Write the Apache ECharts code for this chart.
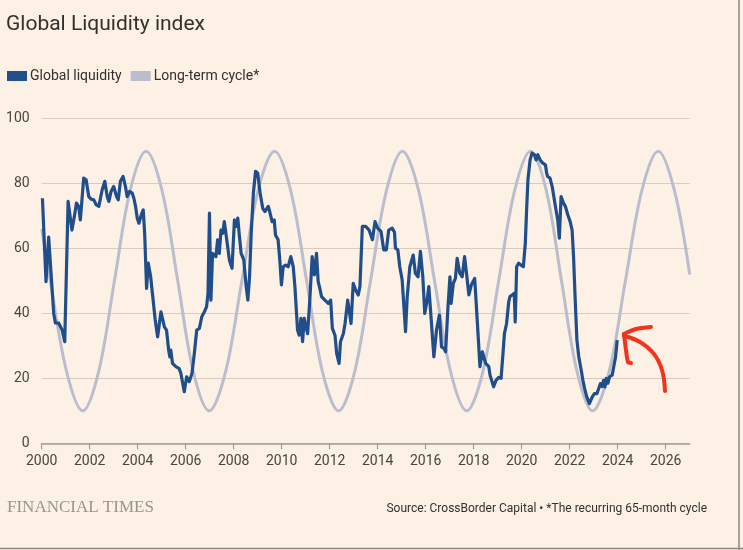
<!DOCTYPE html>
<html>
<head>
<meta charset="utf-8">
<title>Global Liquidity index</title>
<script src="https://cdn.jsdelivr.net/npm/echarts@6/dist/echarts.min.js"></script>
<style>
  html, body { margin: 0; padding: 0; background: #fdf0e5; }
  #chart { width: 743px; height: 550px; }
</style>
</head>
<body>
<div id="chart"></div>
<script>
// x axis tick labels (years)
var tickYears = [2000, 2002, 2004, 2006, 2008, 2010, 2012, 2014, 2016, 2018, 2020, 2022, 2024, 2026];

// Global liquidity (decimal year / index value)
var liquidityDates = [
  2000.03, 2000.18, 2000.29, 2000.50, 2000.57, 2000.71, 2000.85, 2000.96, 2001.10, 2001.26,
  2001.36, 2001.45, 2001.54, 2001.61, 2001.75, 2001.85, 2001.96, 2002.06, 2002.17, 2002.27,
  2002.38, 2002.52, 2002.63, 2002.73, 2002.80, 2002.89, 2003.00, 2003.12, 2003.19, 2003.28,
  2003.39, 2003.49, 2003.56, 2003.66, 2003.77, 2003.84, 2003.91, 2003.98, 2004.05, 2004.15,
  2004.23, 2004.29, 2004.37, 2004.44, 2004.54, 2004.62, 2004.73, 2004.83, 2004.97, 2005.11,
  2005.20, 2005.29, 2005.34, 2005.38, 2005.45, 2005.59, 2005.73, 2005.80, 2005.94, 2006.04,
  2006.15, 2006.26, 2006.36, 2006.46, 2006.57, 2006.67, 2006.78, 2006.87, 2006.93, 2006.99,
  2007.05, 2007.12, 2007.19, 2007.26, 2007.33, 2007.40, 2007.47, 2007.54, 2007.61, 2007.71,
  2007.82, 2007.93, 2008.03, 2008.10, 2008.17, 2008.24, 2008.31, 2008.42, 2008.52, 2008.59,
  2008.66, 2008.73, 2008.82, 2008.91, 2009.00, 2009.10, 2009.21, 2009.30, 2009.44, 2009.50,
  2009.60, 2009.69, 2009.74, 2009.85, 2009.92, 2009.99, 2010.06, 2010.16, 2010.27, 2010.38,
  2010.48, 2010.55, 2010.66, 2010.73, 2010.80, 2010.87, 2010.94, 2011.01, 2011.08, 2011.17,
  2011.27, 2011.36, 2011.45, 2011.52, 2011.59, 2011.66, 2011.80, 2011.94, 2012.04, 2012.11,
  2012.22, 2012.29, 2012.39, 2012.45, 2012.57, 2012.64, 2012.75, 2012.82, 2012.89, 2012.98,
  2013.08, 2013.19, 2013.26, 2013.36, 2013.50, 2013.64, 2013.78, 2013.89, 2014.00, 2014.04,
  2014.14, 2014.25, 2014.36, 2014.46, 2014.60, 2014.70, 2014.74, 2014.84, 2014.92, 2015.02,
  2015.16, 2015.23, 2015.34, 2015.48, 2015.57, 2015.68, 2015.78, 2015.88, 2015.96, 2016.06,
  2016.13, 2016.23, 2016.34, 2016.45, 2016.57, 2016.66, 2016.76, 2016.83, 2016.92, 2017.01,
  2017.06, 2017.15, 2017.24, 2017.31, 2017.42, 2017.52, 2017.62, 2017.70, 2017.80, 2017.90,
  2018.04, 2018.08, 2018.18, 2018.26, 2018.36, 2018.50, 2018.63, 2018.68, 2018.76, 2018.83,
  2018.93, 2019.04, 2019.14, 2019.21, 2019.28, 2019.37, 2019.46, 2019.51, 2019.60, 2019.69,
  2019.73, 2019.79, 2019.87, 2019.97, 2020.07, 2020.15, 2020.21, 2020.26, 2020.35, 2020.43,
  2020.53, 2020.60, 2020.67, 2020.77, 2020.88, 2020.99, 2021.04, 2021.08, 2021.18, 2021.27,
  2021.36, 2021.43, 2021.50, 2021.57, 2021.64, 2021.74, 2021.82, 2021.92, 2022.02, 2022.10,
  2022.16, 2022.23, 2022.30, 2022.38, 2022.48, 2022.55, 2022.62, 2022.71, 2022.82, 2022.94,
  2023.03, 2023.13, 2023.21, 2023.28, 2023.35, 2023.41, 2023.47, 2023.52, 2023.59, 2023.66,
  2023.77, 2023.84, 2023.91, 2023.98
];
var liquidityValues = [
  75.5, 49.8, 63.5, 40.0, 37.1, 37.0, 34.9, 31.3, 74.5, 65.7,
  69.9, 74.0, 72.9, 68.8, 81.7, 81.2, 76.0, 75.2, 75.0, 73.5,
  73.0, 78.1, 80.7, 76.0, 74.5, 77.6, 79.1, 76.0, 75.0, 80.7,
  82.2, 79.1, 76.0, 77.6, 77.1, 75.5, 73.0, 69.4, 67.8, 70.4,
  71.9, 64.7, 47.7, 55.5, 51.3, 50.8, 38.0, 32.8, 40.5, 35.9,
  34.9, 28.7, 26.6, 28.7, 24.6, 23.6, 23.0, 21.5, 15.9, 20.5,
  19.0, 21.5, 27.7, 34.9, 35.4, 39.0, 40.5, 42.1, 46.2, 70.9,
  44.1, 58.5, 59.1, 57.5, 62.7, 58.5, 65.7, 64.7, 68.3, 62.7,
  56.5, 53.9, 68.8, 66.8, 69.4, 63.7, 58.5, 56.5, 48.3, 44.1,
  51.3, 64.7, 77.1, 83.8, 83.2, 77.1, 72.4, 71.4, 73.0, 71.4,
  68.3, 68.8, 64.2, 62.7, 56.5, 48.8, 54.4, 54.9, 54.4, 57.5,
  54.4, 48.3, 34.9, 33.3, 38.5, 31.3, 38.5, 35.9, 33.8, 44.1,
  57.5, 51.9, 58.5, 49.8, 47.7, 45.2, 44.1, 43.1, 44.1, 35.4,
  33.3, 27.7, 24.6, 31.3, 33.8, 36.9, 44.1, 40.5, 36.9, 49.3,
  47.2, 45.7, 48.3, 66.8, 66.8, 65.7, 62.7, 68.3, 66.3, 66.8,
  65.2, 59.6, 59.6, 65.7, 66.3, 65.0, 60.1, 59.6, 54.4, 50.3,
  34.4, 45.2, 54.4, 58.0, 52.4, 51.3, 59.1, 51.3, 40.0, 44.1,
  48.3, 38.0, 26.6, 34.9, 39.5, 29.7, 29.2, 28.2, 41.0, 51.3,
  43.1, 49.3, 50.8, 57.0, 52.4, 51.3, 57.5, 52.4, 45.7, 48.8,
  50.8, 46.2, 33.8, 23.6, 28.2, 24.6, 23.6, 21.0, 20.5, 17.4,
  19.4, 20.3, 20.0, 26.6, 33.8, 36.9, 43.6, 45.2, 45.7, 46.2,
  37.4, 54.4, 55.5, 54.9, 54.4, 61.6, 72.9, 81.2, 87.3, 89.4,
  88.9, 87.3, 88.9, 87.3, 86.3, 85.8, 83.2, 82.2, 81.7, 79.1,
  75.0, 71.9, 68.8, 63.2, 76.0, 74.0, 73.0, 70.4, 68.3, 65.7,
  57.5, 44.1, 31.8, 26.6, 22.5, 19.4, 16.9, 14.3, 12.2, 14.3,
  15.3, 15.3, 16.9, 18.4, 17.5, 19.4, 17.4, 20.0, 18.5, 20.5,
  21.0, 21.5, 26.6, 31.8
];

// Long-term cycle at peaks, troughs and in between
var cycleDates = [
  2000.00, 2000.36, 2001.04, 2001.71, 2002.37, 2003.03, 2003.69, 2004.35,
  2005.01, 2005.67, 2006.32, 2006.98, 2007.66, 2008.34, 2009.02, 2009.70,
  2010.37, 2011.04, 2011.70, 2012.37, 2013.04, 2013.70, 2014.37, 2015.03,
  2015.70, 2016.37, 2017.04, 2017.71, 2018.38, 2019.04, 2019.71, 2020.37,
  2021.02, 2021.66, 2022.31, 2022.95, 2023.64, 2024.32, 2025.01, 2025.69,
  2026.36, 2027.00
];
var cycleValues = [
  66, 50, 22, 10, 22, 50, 78, 90,
  78, 50, 22, 10, 22, 50, 78, 90,
  78, 50, 22, 10, 22, 50, 78, 90,
  78, 50, 22, 10, 22, 50, 78, 90,
  78, 50, 22, 10, 22, 50, 78, 90,
  78, 52
];

function pairs(xs, ys) {
  var out = [];
  for (var i = 0; i < xs.length; i++) {
    out.push([xs[i], ys[i]]);
  }
  return out;
}

var myChart = echarts.init(document.getElementById('chart'), null, { renderer: 'canvas' });

var textColor = '#33302e';
var fontName = 'Roboto, "Noto Sans", sans-serif';

var option = {
  backgroundColor: '#fdf0e5',
  animation: false,
  title: {
    text: 'Global Liquidity index',
    left: 6,
    top: 14,
    padding: 0,
    textStyle: {
      fontFamily: fontName,
      fontSize: 21,
      fontWeight: 'normal',
      color: textColor
    }
  },
  legend: {
    data: ['Global liquidity', 'Long-term cycle*'],
    left: 7,
    top: 69,
    padding: 0,
    icon: 'rect',
    itemWidth: 20,
    itemHeight: 10,
    itemGap: 9,
    textStyle: {
      fontFamily: fontName,
      fontSize: 14,
      color: textColor,
      padding: [0, 0, 0, -2]
    }
  },
  grid: {
    left: 41.7,
    right: 53.3,
    top: 118.7,
    bottom: 106.7
  },
  xAxis: {
    type: 'value',
    min: 2000,
    max: 2027,
    axisLine: {
      show: true,
      lineStyle: { color: '#a39d97', width: 1.5 }
    },
    axisTick: {
      show: true,
      length: 6,
      customValues: tickYears,
      lineStyle: { color: '#a39d97', width: 1.2 }
    },
    axisLabel: {
      customValues: tickYears,
      margin: 11,
      fontFamily: fontName,
      fontSize: 14,
      color: '#4a4542',
      formatter: function (v) { return String(v); }
    },
    splitLine: { show: false }
  },
  yAxis: {
    type: 'value',
    min: 0,
    max: 100,
    interval: 20,
    axisLine: { show: false },
    axisTick: { show: false },
    axisLabel: {
      margin: 12,
      fontFamily: fontName,
      fontSize: 14,
      color: '#4a4542'
    },
    splitLine: {
      lineStyle: { color: '#d8ccc1', width: 1 }
    }
  },
  series: [
    {
      name: 'Long-term cycle*',
      type: 'line',
      data: pairs(cycleDates, cycleValues),
      smooth: 0.35,
      showSymbol: false,
      color: '#b9bdcc',
      lineStyle: { color: '#b9bdcc', width: 3 },
      z: 2
    },
    {
      name: 'Global liquidity',
      type: 'line',
      data: pairs(liquidityDates, liquidityValues),
      showSymbol: false,
      color: '#1f4e8a',
      lineStyle: { color: '#1f4e8a', width: 3.2, join: 'round' },
      z: 3
    }
  ],
  graphic: [
    {
      type: 'text',
      left: 7,
      top: 499,
      style: {
        text: 'FINANCIAL TIMES',
        font: '17px "Liberation Serif", "DejaVu Serif", serif',
        fill: '#9a948f'
      }
    },
    {
      type: 'text',
      right: 36,
      top: 503,
      style: {
        text: 'Source: CrossBorder Capital \u2022 *The recurring 65-month cycle',
        font: '12px Roboto, "Noto Sans", sans-serif',
        fill: textColor
      }
    },
    // hand-drawn red arrow on the reference
    {
      type: 'polyline',
      shape: {
        points: [[624, 336], [640, 342], [654, 354], [662, 370], [665, 391]],
        smooth: 0.4
      },
      style: { stroke: '#f0341f', lineWidth: 4, fill: null, lineCap: 'round' },
      z: 10
    },
    {
      type: 'polyline',
      shape: {
        points: [[651, 327], [636, 329], [624, 334]],
        smooth: 0.3
      },
      style: { stroke: '#f0341f', lineWidth: 4, fill: null, lineCap: 'round' },
      z: 10
    },
    {
      type: 'polyline',
      shape: {
        points: [[624, 334], [626, 350], [628, 362], [631, 363]],
        smooth: 0.3
      },
      style: { stroke: '#f0341f', lineWidth: 4, fill: null, lineCap: 'round' },
      z: 10
    },
    // frame edges of the screenshot
    {
      type: 'line',
      shape: { x1: 739, y1: 0, x2: 739, y2: 550 },
      style: { stroke: '#8c8782', lineWidth: 1.5 },
      z: 10
    },
    {
      type: 'line',
      shape: { x1: 0, y1: 548.5, x2: 743, y2: 548.5 },
      style: { stroke: '#8c8782', lineWidth: 1.5 },
      z: 10
    }
  ]
};

myChart.setOption(option);
</script>
</body>
</html>
